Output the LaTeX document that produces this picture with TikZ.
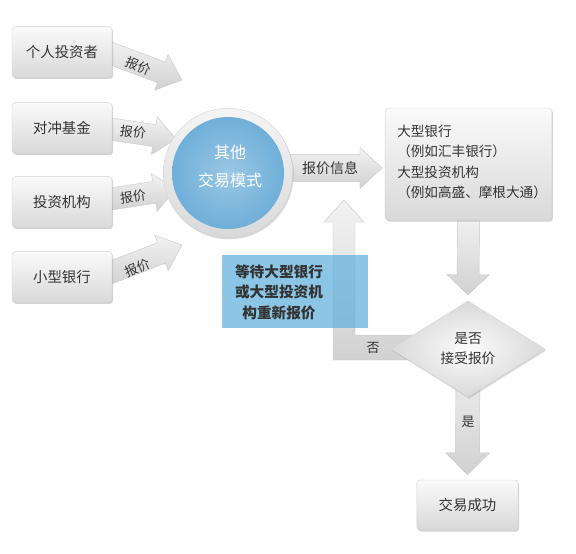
\documentclass[tikz,border=0pt]{standalone}
\usepackage{fontspec}
\setmainfont{Noto Sans CJK SC}
\usetikzlibrary{calc,shapes.geometric,shadows}
\definecolor{txt}{HTML}{333333}
\definecolor{cblue}{HTML}{6FAFD9}
\definecolor{rblue}{HTML}{5FB0DE}
\pgfdeclarelayer{bg}
\pgfsetlayers{bg,main}
\tikzset{
  gbox/.style={rectangle, rounded corners=2.5pt, top color=gray!4, bottom color=gray!30,
    draw=gray!35, line width=0.3pt,
    drop shadow={opacity=0.35, shadow xshift=0.8pt, shadow yshift=-1.2pt},
    text=txt, minimum width=75pt, minimum height=38pt, font=\fontsize{10.8}{13}\selectfont},
  arrowfill/.style={top color=gray!10, bottom color=gray!36, draw=gray!45, line width=0.3pt},
  lbl/.style={text=txt, font=\fontsize{9.75}{12}\selectfont, inner sep=0pt},
}
\newcommand\blkarrow[5]{%
  \coordinate (hb) at ($(#2)!#5!(#1)$);
  \path[arrowfill] ($(#1)!#3!90:(#2)$) -- ($(hb)!#3!90:(#2)$) -- ($(hb)!#4!90:(#2)$) -- (#2)
    -- ($(hb)!#4!-90:(#2)$) -- ($(hb)!#3!-90:(#2)$) -- ($(#1)!#3!-90:(#2)$) -- cycle;}
\begin{document}
\begin{tikzpicture}[x=0.75pt,y=-0.75pt]
\useasboundingbox (0,0) rectangle (576,554);
% left boxes
\node[gbox] (p1) at (62,52) {个人投资者};
\node[gbox] (p2) at (62,128) {对冲基金};
\node[gbox] (p3) at (62,202) {投资机构};
\node[gbox] (p4) at (62,277) {小型银行};
% central circle
\node[circle, minimum size=97pt, inner sep=0, top color=gray!8, bottom color=gray!30,
  draw=gray!35, line width=0.3pt,
  drop shadow={opacity=0.3, shadow xshift=0.8pt, shadow yshift=-1.2pt}] (ring) at (228,173) {};
\node[circle, minimum size=84pt, inner sep=0, inner color=cblue!70!white, outer color=cblue] (mid) at (228,173) {};
\node[text=white, align=center, font=\fontsize{12}{21}\selectfont] (midtxt) at (230,166) {其他\\交易模式};
% bank box
\node[gbox, minimum width=125pt, minimum height=84pt] (bank) at (468.5,164) {};
\node[anchor=west, align=left, text=txt, font=\fontsize{10.2}{15}\selectfont, inner sep=0] (banktxt) at (397,162)
  {大型银行\\（例如汇丰银行）\\[1pt]大型投资机构\\（例如高盛、摩根大通）};
% diamond
\node[diamond, minimum width=115.5pt, minimum height=72pt, inner sep=0,
  inner color=gray!3, outer color=gray!30, draw=gray!35, line width=0.3pt,
  drop shadow={opacity=0.3, shadow xshift=0.8pt, shadow yshift=-1.2pt},
  align=center, text=txt, font=\fontsize{10.3}{15}\selectfont] (dia) at (468,349) {是否\\接受报价};
% final box
\node[gbox, minimum width=76pt, minimum height=37.5pt] (done) at (467.5,505) {交易成功};
% waiting note
\node[rectangle, minimum width=109.5pt, minimum height=54.75pt, fill=rblue, fill opacity=0.72, inner sep=0] (wait) at (295,291.5) {};
\node[align=center, text=txt, font=\bfseries\fontsize{11}{15.4}\selectfont] (waittxt) at (279,292) {等待大型银行\\或大型投资机\\构重新报价};
% labels
\node[lbl, rotate=-23] (l1) at (138,66) {报价};
\node[lbl, rotate=-8] (l2) at (133,132) {报价};
\node[lbl, rotate=8] (l3) at (133,197) {报价};
\node[lbl, rotate=23] (l4) at (138,268) {报价};
\node[lbl, font=\fontsize{10.5}{12}\selectfont] (l5) at (330,168) {报价信息};
\node[lbl] (l6) at (373,348) {否};
\node[lbl] (l7) at (468,422) {是};
% block arrows
\begin{pgfonlayer}{bg}
  \coordinate (s1) at ($(p1.east)+(-8,-1)$);  \coordinate (t1) at (182,80);
  \coordinate (s2) at ($(p2.east)+(-8,0)$);   \coordinate (t2) at (176,139);
  \coordinate (s3) at ($(p3.east)+(-8,-2)$);  \coordinate (t3) at (176,189);
  \coordinate (s4) at ($(p4.east)+(-8,-2)$);  \coordinate (t4) at (182,245);
  \blkarrow{s1}{t1}{8.25pt}{14.25pt}{16.5pt}
  \blkarrow{s2}{t2}{8.25pt}{14.25pt}{16.5pt}
  \blkarrow{s3}{t3}{8.25pt}{14.25pt}{16.5pt}
  \blkarrow{s4}{t4}{8.25pt}{14.25pt}{16.5pt}
  \coordinate (s5) at ($(ring.center)+(0,-5)$); \coordinate (t5) at ($(bank.west)+(-3,4)$);
  \blkarrow{s5}{t5}{10pt}{15.4pt}{16.5pt}
  \coordinate (s6) at ($(bank.south)+(0,-6)$); \coordinate (t6) at ($(dia.north)+(0,-6)$);
  \blkarrow{s6}{t6}{8.25pt}{15.75pt}{15pt}
  \coordinate (t7) at ($(done.north)+(0,-5)$);
  \blkarrow{dia.center}{t7}{9pt}{16.5pt}{16.5pt}
  \coordinate (looptip) at (344,200);
  \path[arrowfill] ($(dia.center)+(-30,-14)$) -- (355,335) -- (355,222) -- (364,222) -- (looptip)
    -- (324,222) -- (333,222) -- (333,360) -- ($(dia.center)+(-30,11)$) -- cycle;
\end{pgfonlayer}
\end{tikzpicture}
\end{document}
